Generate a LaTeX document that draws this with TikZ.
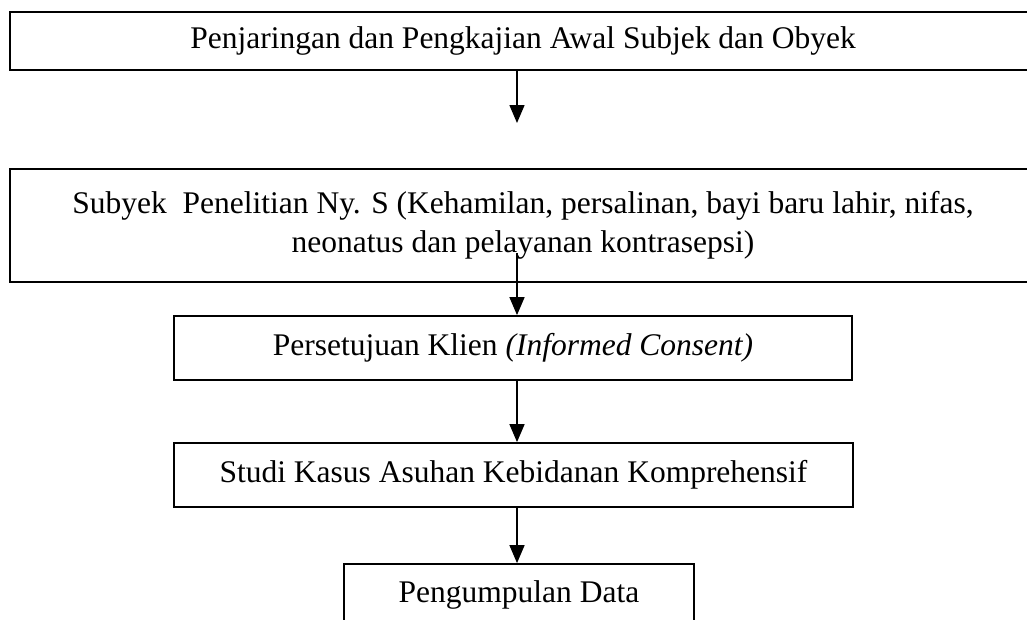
\documentclass[tikz,border=0pt]{standalone}
\usepackage{fontspec}
\setmainfont{Liberation Serif}
\usetikzlibrary{arrows.meta}
\begin{document}
\begin{tikzpicture}[x=1pt,y=-1pt,
  box/.style={draw=black,line width=1.8pt,rectangle,inner sep=0pt,align=center,
    font=\fontsize{31.5pt}{38pt}\selectfont},
  arr/.style={line width=1.5pt,-{Triangle[length=18pt,width=15pt]}}]
\useasboundingbox (0,0) rectangle (1027,619);
\clip (0,0) rectangle (1027,619);
\fill[white] (0,0) rectangle (1027,619);
\coordinate (col) at (517,0);
\node[box,minimum width=1026pt,minimum height=58pt] (b1) at (523,41)
  {Penjaringan dan Pengkajian Awal Subjek dan Obyek};
\node[box,minimum width=1026pt,minimum height=113pt,text depth=8pt,
  font=\fontsize{31.5pt}{39pt}\selectfont] (b2) at (523,225.5)
  {Subyek~ Penelitian Ny. S (Kehamilan, persalinan, bayi baru lahir, nifas,\\
   neonatus dan pelayanan kontrasepsi)};
\node[box,minimum width=678pt,minimum height=64pt] (b3) at (513,348)
  {Persetujuan Klien \textit{(Informed Consent)}};
\node[box,minimum width=679pt,minimum height=64pt] (b4) at (513.5,475)
  {Studi Kasus Asuhan Kebidanan Komprehensif};
\node[box,minimum width=350pt,minimum height=62pt] (b5) at (519,595)
  {Pengumpulan Data};
\coordinate (a1e) at (517,123);
\coordinate (a2s) at (517,253);
\draw[arr] (b1.south -| col) -- (a1e);
\draw[arr] (a2s) -- (b3.north -| col);
\draw[arr] (b3.south -| col) -- (b4.north -| col);
\draw[arr] (b4.south -| col) -- (b5.north -| col);
\end{tikzpicture}
\end{document}
